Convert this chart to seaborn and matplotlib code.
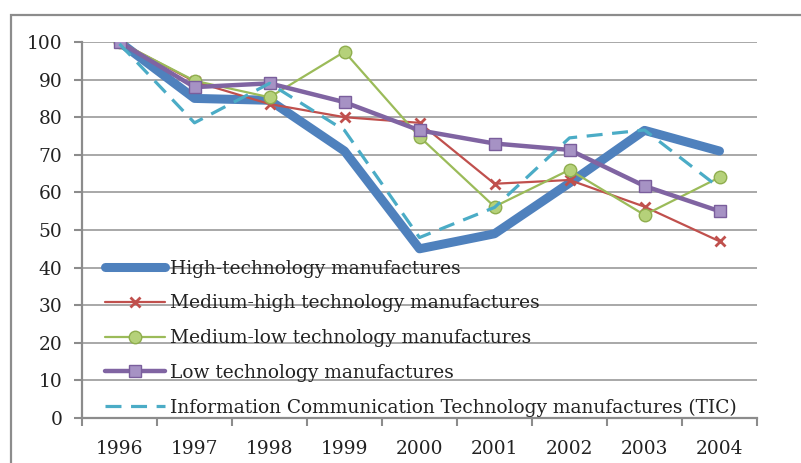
import matplotlib
matplotlib.use("Agg")
import matplotlib.pyplot as plt
from matplotlib.patches import Rectangle
import pandas as pd
import seaborn as sns

years = ["1996", "1997", "1998", "1999", "2000", "2001", "2002", "2003", "2004"]
high_tech = [100, 85, 84.5, 71, 45, 49, 62.5, 76.5, 71]
medium_high = [100, 89.5, 83.5, 80, 78.5, 62.3, 63.3, 56.2, 47]
medium_low = [100, 89.7, 85.3, 97.4, 74.8, 56.2, 66, 54, 64]
low_tech = [100, 88, 89, 84, 76.5, 73, 71.3, 61.7, 55]
ict = [99.5, 78.5, 89, 76.5, 48, 56, 74.5, 76.6, 61.2]

labels = [
    "High-technology manufactures",
    "Medium-high technology manufactures",
    "Medium-low technology manufactures",
    "Low technology manufactures",
    "Information Communication Technology manufactures (TIC)",
]
series = [high_tech, medium_high, medium_low, low_tech, ict]

sns.set_theme(style="white")
plt.rcParams["font.family"] = ["DejaVu Serif"]

fig = plt.figure(figsize=(8.01, 4.63), dpi=100)
ax = fig.add_axes([82 / 801, 1 - 418 / 463, (757 - 82) / 801, (418 - 42) / 463])

styles = [
    dict(color="#4F81BD", lw=6.5, marker=None, dashed=False),
    dict(color="#C0504D", lw=1.6, marker="x", ms=7, mew=2, mec="#C0504D", dashed=False),
    dict(color="#9BBB59", lw=1.6, marker="o", ms=9, mfc="#B5D17A", mec="#8FAE4E", mew=1, dashed=False),
    dict(color="#8064A2", lw=3.2, marker="s", ms=9, mfc="#A692C4", mec="#7A5E9C", mew=1, dashed=False),
    dict(color="#4BACC6", lw=2.3, marker=None, dashed=True),
]

xpos = list(range(len(years)))
for vals, lab, st in zip(series, labels, styles):
    df = pd.DataFrame({"x": xpos, "y": vals})
    st = dict(st)
    dashed = st.pop("dashed")
    lw = st.pop("lw")
    line_kw = dict(linewidth=lw, **st)
    if dashed:
        line_kw["linestyle"] = (0, (5, 3))
    sns.lineplot(data=df, x="x", y="y", ax=ax, label=lab, **line_kw)

ax.set_xlim(-0.5, len(years) - 0.5)
ax.set_ylim(0, 100)
ax.set_xlabel("")
ax.set_ylabel("")

ax.set_yticks(range(0, 101, 10))
ax.yaxis.grid(True, color="#9a9a9a", linewidth=1.2)
ax.set_axisbelow(True)

ax.set_xticks(xpos)
ax.set_xticklabels(years)
ax.set_xticks([i - 0.5 for i in range(len(years) + 1)], minor=True)
ax.tick_params(axis="x", which="major", length=0, pad=16, labelsize=13.4, colors="#222222")
ax.tick_params(axis="x", which="minor", length=6, width=1.5, color="#8c8c8c", direction="out", bottom=True)
ax.tick_params(axis="y", which="major", length=6, width=1.5, color="#8c8c8c", direction="out",
               pad=8, labelsize=13.4, left=True, labelcolor="#222222")

for side in ["top", "right"]:
    ax.spines[side].set_visible(False)
for side in ["left", "bottom"]:
    ax.spines[side].set_color("#8c8c8c")
    ax.spines[side].set_linewidth(1.6)

leg = ax.legend(loc="upper left", bbox_to_anchor=(0.0345, 0.421), frameon=False,
                fontsize=13.4, handlelength=3.2, handletextpad=0.3, labelspacing=0.9,
                borderaxespad=0, borderpad=0)
for t in leg.get_texts():
    t.set_color("#222222")

# outer chart frame
fig.patches.append(Rectangle((11 / 801, -0.2), 1.2, 1.2 - 15 / 463,
                             transform=fig.transFigure, fill=False,
                             edgecolor="#8c8c8c", linewidth=1.6))

fig.savefig("out.png", dpi=100)
